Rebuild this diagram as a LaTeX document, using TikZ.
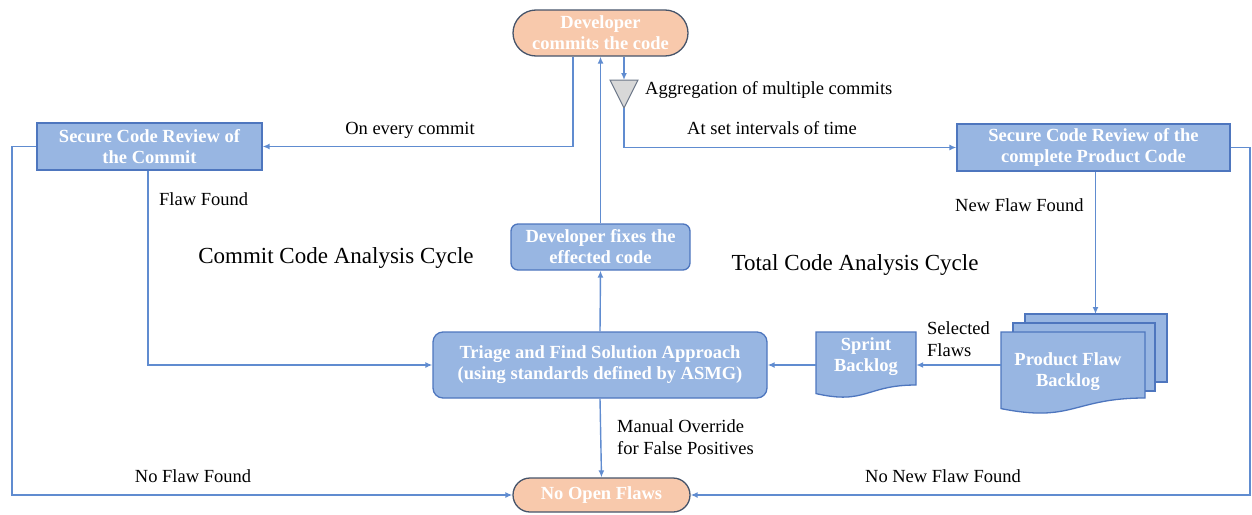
\documentclass[tikz,border=0pt]{standalone}
\usepackage{fontspec}
\setmainfont{Liberation Serif}
\usetikzlibrary{shapes.misc,arrows.meta}
\definecolor{boxfill}{RGB}{152,182,226}
\definecolor{boxline}{RGB}{78,118,190}
\definecolor{peach}{RGB}{248,201,172}
\definecolor{peachline}{RGB}{70,84,106}
\definecolor{conn}{RGB}{96,140,208}
\definecolor{trifill}{RGB}{216,216,216}
\begin{document}
\begin{tikzpicture}[x=1pt,y=-1pt,
  box/.style={draw=boxline, fill=boxfill, line width=1.3pt, text=white,
    font=\fontsize{18.5}{21}\selectfont\bfseries, align=center, inner sep=0pt},
  term/.style={rounded rectangle, draw=peachline, fill=peach, line width=1.3pt, text=white,
    font=\fontsize{18.5}{21}\selectfont\bfseries, align=center, inner sep=0pt},
  docbox/.style={draw=boxline, fill=boxfill, line width=1.3pt},
  doctext/.style={text=white, font=\fontsize{18.5}{21}\selectfont\bfseries, align=center, inner sep=0pt},
  conn/.style={draw=conn, line width=1.4pt},
  arr/.style={conn, -{Latex[length=7pt,width=6pt]}},
  lbl/.style={font=\fontsize{18.5}{22}\selectfont, text=black, inner sep=0pt},
  big/.style={font=\fontsize{23}{26}\selectfont, text=black, inner sep=0pt}]
\useasboundingbox (0,0) rectangle (1252,514);

% nodes
\node[term, minimum width=175, minimum height=46] (dev) at (600.5,33) {Developer\\commits the code};
\node[term, minimum width=177, minimum height=34] (noflaw) at (601.5,495) {No Open Flaws};
\node[box, minimum width=225, minimum height=47] (scrc) at (149.5,146.5) {Secure Code Review of\\the Commit};
\node[box, minimum width=273, minimum height=47] (scrp) at (1093.5,147.5) {Secure Code Review of the\\complete Product Code};
\node[box, rounded corners=7, minimum width=179, minimum height=46] (fix) at (600.5,247) {Developer fixes the\\effected code};
\node[box, rounded corners=10, minimum width=334, minimum height=66] (triage) at (600,365) {Triage and Find Solution Approach\\(using standards defined by ASMG)};

% sprint backlog document
\draw[docbox] (816,332) -- (916,332) -- (916,385) .. controls (866,385) and (866,405) .. (816,393.6) -- cycle;
\node[doctext, minimum width=100, minimum height=66] (sprint) at (866,365) {};
\node[doctext] at (866,357) {Sprint\\Backlog};

% product flaw backlog (multi-document)
\draw[docbox] (1025,314) rectangle (1167,382);
\draw[docbox] (1013,323) rectangle (1155,391);
\draw[docbox] (1001,332) -- (1145,332) -- (1145,398) .. controls (1073,398) and (1073,423) .. (1001,408.6) -- cycle;
\node[doctext, minimum width=144, minimum height=66] (prod) at (1073,365) {};
\node[doctext] at (1068,372) {Product Flaw\\Backlog};
\coordinate (prodtop) at (1095.5,314);

% aggregation triangle
\draw[draw=peachline!80, fill=trifill, line width=1pt] (610,80) -- (638,80) -- (624,108) -- cycle;
\coordinate (tritop) at (624,80);
\coordinate (triapex) at (624,108);

% side corners
\coordinate (lc) at (12,146.5);
\coordinate (rc) at (1250,147.5);

% connectors
\draw[arr] ([xshift=-27.5]dev.south) |- (scrc.east);
\draw[arr] (fix.north) -- (dev.south);
\draw[arr] ([xshift=23.5]dev.south) -- (tritop);
\draw[arr] (triapex) |- (scrp.west);
\draw[arr] (scrc.west) -- (lc) |- (noflaw.west);
\draw[arr] (scrp.east) -- (rc) |- (noflaw.east);
\draw[arr] ([xshift=-1.5]scrc.south) |- (triage.west);
\draw[arr] ([xshift=2]scrp.south) -- (prodtop);
\draw[arr] (prod.west) -- (sprint.east);
\draw[arr] (sprint.west) -- (triage.east);
\draw[arr] (triage.north) -- (fix.south);
\draw[arr] (triage.south) -- (noflaw.north);

% labels
\node[lbl, anchor=west] at (645,90) {Aggregation of multiple commits};
\node[lbl] at (772,128) {At set intervals of time};
\node[lbl] at (410,130) {On every commit};
\node[lbl, anchor=west] at (159,199) {Flaw Found};
\node[lbl, anchor=west] at (955,205) {New Flaw Found};
\node[lbl, anchor=west, align=left] at (927,339) {Selected\\Flaws};
\node[lbl, anchor=west, align=left] at (617,437) {Manual Override\\for False Positives};
\node[lbl] at (193,476) {No Flaw Found};
\node[lbl] at (943,476) {No New Flaw Found};
\node[big] at (336,258) {Commit Code Analysis Cycle};
\node[big] at (855,265) {Total Code Analysis Cycle};
\end{tikzpicture}
\end{document}
